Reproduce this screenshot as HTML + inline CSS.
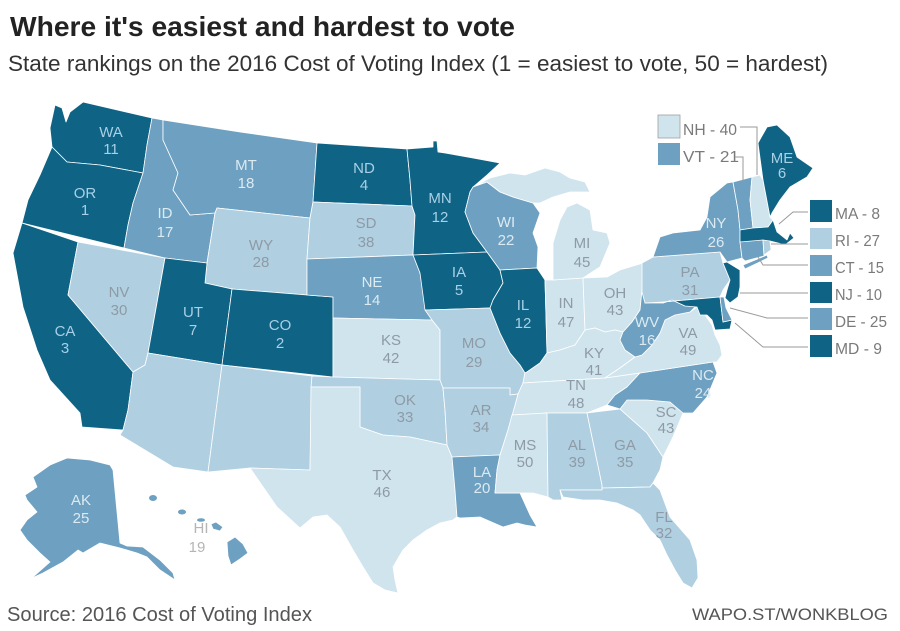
<!DOCTYPE html>
<html>
<head>
<meta charset="utf-8">
<style>
html,body{margin:0;padding:0;background:#fff;}
svg{display:block;}
text{font-family:"Liberation Sans",sans-serif;}
.D{fill:#0f6385;}
.M{fill:#6da0c1;}
.L{fill:#b0d0e2;}
.X{fill:#d0e4ee;}
.st polygon{stroke:#fff;stroke-width:0.8;stroke-linejoin:round;}
.lb text{font-size:15px;text-anchor:middle;}
.td{fill:#a8d0e6;}
.tm{fill:#dceaf2;}
.tl{fill:#8e9aa5;}
.lg{font-size:15.5px;fill:#7a7a7a;}
.ld{fill:none;stroke:#9a9a9a;stroke-width:1;}
</style>
</head>
<body>
<svg width="900" height="631" viewBox="0 0 900 631" xmlns="http://www.w3.org/2000/svg">
<rect width="900" height="631" fill="#fff"/>
<text x="10" y="36" font-size="28" font-weight="bold" fill="#222" textLength="505" lengthAdjust="spacingAndGlyphs">Where it's easiest and hardest to vote</text>
<text x="8" y="71" font-size="22.5" fill="#333" textLength="820" lengthAdjust="spacingAndGlyphs">State rankings on the 2016 Cost of Voting Index (1 = easiest to vote, 50 = hardest)</text>

<g class="st">
<!-- West -->
<polygon class="D" points="55,105 62,108 66,122 70,112 83,102 152,118 147,145 143,173 100,165 67,162 52,147 50,128"/>
<polygon class="D" points="52,147 67,162 100,165 143,173 133,203 128,225 124,248 22,223 28,200 40,175"/>
<polygon class="D" points="22,223 78,242 68,295 133,372 130,395 128,410 123,430 82,427 80,413 50,380 37,350 23,307 13,253"/>
<polygon class="L" points="78,242 165,258 148,353 145,365 133,372 68,295"/>
<polygon class="M" points="152,118 163,120 163,140 178,173 173,190 190,215 215,213 207,263 165,258 124,248 128,225 133,203 143,173 147,145"/>
<polygon class="M" points="163,120 240,132 317,143 313,202 310,218 217,208 215,213 190,215 173,190 178,173 163,140"/>
<polygon class="L" points="217,208 310,218 307,259 307,295 232,289 205,283 207,263 215,213"/>
<polygon class="D" points="165,258 207,263 205,283 232,289 222,365 148,353"/>
<polygon class="D" points="232,289 307,295 333,297 333,377 222,365"/>
<polygon class="L" points="148,353 222,365 208,472 173,467 120,435 123,430 128,410 130,395 133,372 145,365"/>
<polygon class="L" points="222,365 312,376 310,470 250,468 208,472"/>
<!-- Plains -->
<polygon class="D" points="317,143 407,149 410,180 412,206 313,202"/>
<polygon class="L" points="313,202 412,206 415,215 413,255 307,259 310,218"/>
<polygon class="M" points="307,259 413,255 420,273 430,310 432,320 333,318 333,297 307,295"/>
<polygon class="X" points="333,318 432,320 440,330 440,380 333,377"/>
<polygon class="L" points="312,376 333,377 440,380 443,388 445,410 447,445 410,437 383,435 360,427 360,387 311,387"/>
<polygon class="X" points="311,387 360,387 360,427 383,435 410,437 447,445 452,457 455,490 457,517 453,520 440,523 427,530 413,540 403,550 393,567 395,580 398,593 385,590 373,583 363,567 353,550 340,527 327,515 313,517 300,528 277,507 250,468 310,470"/>
<!-- Midwest -->
<polygon class="D" points="407,149 433,147 433,141 437,141 438,152 445,153 473,158 500,163 487,175 473,187 470,192 465,212 473,233 487,252 413,255 415,215 412,206 410,180"/>
<polygon class="D" points="413,255 487,252 500,270 503,283 493,300 490,308 425,310 420,273"/>
<polygon class="L" points="425,310 490,308 500,333 510,353 520,365 525,373 523,383 518,394 510,395 510,388 443,388 440,380 440,330 432,320"/>
<polygon class="M" points="473,187 487,182 500,192 513,197 533,203 540,213 533,233 538,247 537,268 500,270 487,252 473,233 465,212 470,192"/>
<polygon class="D" points="500,270 537,268 545,280 547,353 540,363 527,372 525,373 520,365 510,353 500,333 490,308 493,300 503,283"/>
<polygon class="X" points="545,280 553,280 583,278 585,330 575,345 560,350 547,353"/>
<polygon class="X" points="553,280 583,278 600,267 610,243 607,233 593,230 590,210 577,203 567,207 560,220 553,243 553,260"/>
<polygon class="X" points="477,185 490,178 510,173 525,175 545,168 560,172 570,178 585,182 590,192 570,192 553,197 540,203 533,203 513,197 500,192 487,182"/>
<polygon class="X" points="583,278 607,277 620,270 643,263 642,292 640,310 632,322 623,332 615,330 605,332 595,328 585,330"/>
<!-- South -->
<polygon class="X" points="527,372 540,363 547,353 560,350 575,345 585,330 595,328 605,332 615,330 623,332 620,340 625,350 635,357 620,368 605,378 523,383 525,373"/>
<polygon class="X" points="523,383 605,378 640,373 627,387 615,395 607,405 587,413 547,413 512,415 515,405 518,394"/>
<polygon class="L" points="443,388 510,388 510,395 518,394 515,405 508,430 500,455 452,457 447,445 445,410"/>
<polygon class="M" points="452,457 500,455 497,470 495,493 520,493 530,515 537,527 525,525 517,523 503,527 480,517 460,518 457,517 455,490"/>
<polygon class="X" points="512,415 547,413 548,497 533,493 520,493 495,493 497,470 500,455 508,430"/>
<polygon class="L" points="547,413 587,413 602,485 602,490 560,490 562,500 553,500 548,497"/>
<polygon class="L" points="587,413 620,409 647,433 663,457 660,470 653,483 650,487 602,488 602,485"/>
<polygon class="L" points="560,490 602,490 602,488 650,487 653,483 660,490 670,517 690,540 697,560 698,578 692,588 683,583 675,570 667,555 660,540 650,530 640,515 633,510 617,503 600,500 583,500 563,497"/>
<polygon class="X" points="620,409 627,400 647,400 670,402 683,413 673,437 663,457 647,433"/>
<polygon class="M" points="640,373 713,362 717,373 712,385 707,397 693,413 683,413 670,402 647,400 627,400 620,409 607,405 615,395 627,387"/>
<polygon class="X" points="605,378 620,368 635,357 642,355 652,345 660,333 665,320 675,315 690,312 697,307 705,315 712,325 715,335 720,345 722,355 717,362 713,362 640,373"/>
<polygon class="M" points="642,290 645,290 645,303 663,303 672,300 685,306 697,305 690,312 675,315 665,320 660,333 652,345 642,355 635,357 625,350 620,340 623,332 632,322 640,310"/>
<!-- Northeast -->
<polygon class="L" points="642,263 653,257 720,252 723,263 730,280 723,290 720,297 663,302 645,303 642,292"/>
<polygon class="M" points="653,257 660,237 673,233 700,230 707,217 710,197 727,183 733,182 738,210 740,230 740,242 742,258 727,262 720,252"/>
<polygon class="M" points="743,265 767,255 768,258 745,269"/>
<polygon class="M" points="733,182 752,177 750,200 753,228 740,230 738,210"/>
<polygon class="X" points="752,177 760,175 763,180 770,217 773,220 768,227 753,228 750,200"/>
<polygon class="D" points="758,143 767,127 777,125 790,137 797,157 813,168 807,177 790,187 780,200 772,213 770,217 763,180"/>
<polygon class="D" points="740,230 753,228 768,227 773,220 777,232 787,240 790,233 794,238 785,245 778,243 770,241 740,242"/>
<polygon class="M" points="740,242 763,240 764,256 745,261 742,258"/>
<polygon class="L" points="763,240 770,241 771,250 764,255"/>
<polygon class="D" points="723,263 727,262 740,270 740,287 738,297 730,303 725,298 727,290 730,280"/>
<polygon class="D" points="663,302 720,297 723,322 732,320 730,329 715,330 712,320 707,315 700,315 697,307 685,306 672,300 663,303"/>
<polygon class="M" points="720,297 724,297 726,308 732,320 723,322"/>
<!-- Alaska -->
<polygon class="M" points="33,477 50,465 67,458 90,460 110,465 113,470 120,543 127,546 143,547 160,560 173,573 175,580 160,570 147,557 137,553 120,548 100,543 83,553 78,550 63,562 43,573 17,585 13,586 33,577 50,562 40,553 27,540 20,530 27,520 37,512 27,500 25,495 37,487"/>
<!-- Hawaii -->
<ellipse class="M" cx="153" cy="498" rx="4" ry="3"/>
<ellipse class="M" cx="182" cy="512" rx="4" ry="2.5"/>
<ellipse class="M" cx="201" cy="520" rx="4" ry="1.8"/>
<polygon class="M" points="211,524 216,522 223,527 220,531 213,529"/>
<polygon class="M" points="227,542 235,537 243,544 248,553 240,559 231,565 228,556"/>
</g>

<!-- labels -->
<g class="lb">
<text class="td" x="111" y="137">WA</text><text class="td" x="111" y="154">11</text>
<text class="td" x="85" y="198">OR</text><text class="td" x="85" y="215">1</text>
<text class="td" x="65" y="336">CA</text><text class="td" x="65" y="353">3</text>
<text class="tl" x="119" y="297">NV</text><text class="tl" x="119" y="315">30</text>
<text class="td" x="193" y="317">UT</text><text class="td" x="193" y="335">7</text>
<text class="td" x="280" y="330">CO</text><text class="td" x="280" y="348">2</text>
<text class="tm" x="165" y="218">ID</text><text class="tm" x="165" y="237">17</text>
<text class="tm" x="246" y="170">MT</text><text class="tm" x="246" y="188">18</text>
<text class="tl" x="261" y="250">WY</text><text class="tl" x="261" y="267">28</text>
<text class="td" x="364" y="173">ND</text><text class="td" x="364" y="190">4</text>
<text class="tl" x="366" y="228">SD</text><text class="tl" x="366" y="247">38</text>
<text class="td" x="440" y="203">MN</text><text class="td" x="440" y="222">12</text>
<text class="tm" x="506" y="227">WI</text><text class="tm" x="506" y="245">22</text>
<text class="tl" x="582" y="248">MI</text><text class="tl" x="582" y="267">45</text>
<text class="tm" x="372" y="287">NE</text><text class="tm" x="372" y="305">14</text>
<text class="td" x="459" y="277">IA</text><text class="td" x="459" y="295">5</text>
<text class="td" x="523" y="310">IL</text><text class="td" x="523" y="328">12</text>
<text class="tl" x="566" y="308">IN</text><text class="tl" x="566" y="327">47</text>
<text class="tl" x="615" y="298">OH</text><text class="tl" x="615" y="315">43</text>
<text class="tl" x="391" y="345">KS</text><text class="tl" x="391" y="363">42</text>
<text class="tl" x="474" y="348">MO</text><text class="tl" x="474" y="367">29</text>
<text class="tl" x="594" y="358">KY</text><text class="tl" x="594" y="375">41</text>
<text class="tl" x="576" y="390">TN</text><text class="tl" x="576" y="408">48</text>
<text class="tl" x="405" y="405">OK</text><text class="tl" x="405" y="422">33</text>
<text class="tl" x="481" y="415">AR</text><text class="tl" x="481" y="432">34</text>
<text class="tl" x="525" y="450">MS</text><text class="tl" x="525" y="467">50</text>
<text class="tl" x="577" y="450">AL</text><text class="tl" x="577" y="467">39</text>
<text class="tl" x="625" y="450">GA</text><text class="tl" x="625" y="467">35</text>
<text class="tl" x="666" y="417">SC</text><text class="tl" x="666" y="433">43</text>
<text class="tm" x="703" y="380">NC</text><text class="tm" x="703" y="398">24</text>
<text class="tl" x="382" y="480">TX</text><text class="tl" x="382" y="497">46</text>
<text class="tm" x="482" y="477">LA</text><text class="tm" x="482" y="493">20</text>
<text class="tl" x="664" y="522">FL</text><text class="tl" x="664" y="538">32</text>
<text class="tl" x="688" y="338">VA</text><text class="tl" x="688" y="355">49</text>
<text class="tm" x="647" y="327">WV</text><text class="tm" x="647" y="345">16</text>
<text class="tl" x="690" y="277">PA</text><text class="tl" x="690" y="295">31</text>
<text class="tm" x="716" y="228">NY</text><text class="tm" x="716" y="247">26</text>
<text class="td" x="782" y="163">ME</text><text class="td" x="782" y="178">6</text>
<text class="tm" x="81" y="505">AK</text><text class="tm" x="81" y="523">25</text>
<text x="201" y="533" fill="#b5b5b5">HI</text><text x="197" y="552" fill="#b5b5b5">19</text>
</g>

<!-- legend boxes and leaders -->
<rect x="658" y="115" width="22" height="23" fill="#d0e4ee" stroke="#a0a0a0" stroke-width="0.8"/>
<text class="lg" x="683" y="135" textLength="54" lengthAdjust="spacingAndGlyphs">NH - 40</text>
<polyline class="ld" points="740,127 757,127 757,175"/>
<rect x="658" y="143" width="22" height="22" class="M"/>
<text class="lg" x="683" y="162" textLength="56" lengthAdjust="spacingAndGlyphs">VT - 21</text>
<polyline class="ld" points="735,157 743,157 743,182"/>

<rect x="810" y="200" width="22" height="22" class="D"/>
<text class="lg" x="835" y="219" textLength="45" lengthAdjust="spacingAndGlyphs">MA - 8</text>
<polyline class="ld" points="808,212 793,212 779,224"/>
<rect x="810" y="228" width="22" height="21" class="L"/>
<text class="lg" x="835" y="246" textLength="45" lengthAdjust="spacingAndGlyphs">RI - 27</text>
<polyline class="ld" points="808,244 771,244"/>
<rect x="810" y="255" width="22" height="21" class="M"/>
<text class="lg" x="835" y="273" textLength="49" lengthAdjust="spacingAndGlyphs">CT - 15</text>
<polyline class="ld" points="808,265 763,265 758,257"/>
<rect x="810" y="282" width="22" height="21" class="D"/>
<text class="lg" x="835" y="300" textLength="47" lengthAdjust="spacingAndGlyphs">NJ - 10</text>
<polyline class="ld" points="808,293 740,293"/>
<rect x="810" y="308" width="22" height="22" class="M"/>
<text class="lg" x="835" y="327" textLength="52" lengthAdjust="spacingAndGlyphs">DE - 25</text>
<polyline class="ld" points="808,318 767,318 730,308"/>
<rect x="810" y="335" width="22" height="22" class="D"/>
<text class="lg" x="835" y="354" textLength="47" lengthAdjust="spacingAndGlyphs">MD - 9</text>
<polyline class="ld" points="808,347 763,347 735,323"/>

<text x="7" y="621" font-size="20" fill="#555" textLength="305" lengthAdjust="spacingAndGlyphs">Source: 2016 Cost of Voting Index</text>
<text x="692" y="620" font-size="17" fill="#555" textLength="196" lengthAdjust="spacingAndGlyphs">WAPO.ST/WONKBLOG</text>
</svg>
</body>
</html>
